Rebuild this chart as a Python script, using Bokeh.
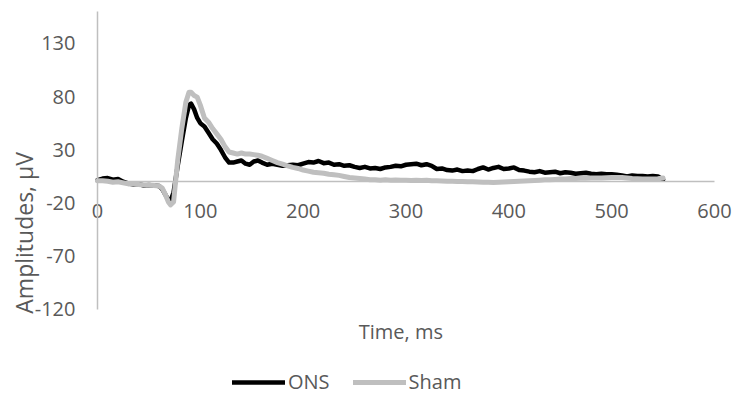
from bokeh.plotting import figure
from bokeh.models import Range1d, FixedTicker, Label, Legend, LegendItem, CustomJSTickFormatter
from bokeh.embed import file_html
from bokeh.resources import INLINE

# time axis (ms)
time_ms = [0, 5, 10, 15, 20, 25, 30, 35, 40, 45, 50, 55, 60, 63, 66, 69, 71, 74, 78, 82,
           86, 89, 91, 94, 97, 100, 104, 108, 112, 116, 120, 124, 128, 132, 136, 140, 144,
           148, 152, 156, 160, 165, 170, 175, 180, 185, 190, 195, 200, 205, 210, 215, 220,
           225, 230, 235, 240, 245, 250, 255, 260, 265, 270, 275, 280, 285, 290, 295, 300,
           305, 310, 315, 320, 325, 330, 335, 340, 345, 350, 355, 360, 365, 370, 375, 380,
           385, 390, 395, 400, 405, 410, 415, 420, 425, 430, 435, 440, 445, 450, 455, 460,
           465, 470, 475, 480, 485, 490, 495, 500, 505, 510, 515, 520, 525, 530, 535, 540,
           545, 550]

ons = [1.5, 3, 3.5, 2, 2.5, 0, -1.5, -2.5, -2, -3.5, -3, -3.5, -4, -7, -12, -17, -18, -10,
       15, 38, 60, 72, 73.5, 68, 60, 55, 52, 46, 40, 36, 30, 23, 18, 18, 19, 20, 17, 16, 19,
       20, 18, 16, 17, 16, 15, 15.5, 16, 15.5, 17, 18.5, 18, 19.5, 17.5, 18, 16, 16.5, 15,
       15.5, 14, 13, 14, 12.5, 13, 12, 13.5, 14, 15, 14.5, 16, 16.5, 17, 15.5, 16.5, 15, 12,
       12.5, 11, 10.5, 11.5, 10, 10.5, 10, 12, 13.5, 11.5, 13, 14, 12, 12.5, 13.5, 11, 10.5,
       9.5, 9, 10, 8.5, 9, 9.5, 8, 9, 8.5, 7.5, 8, 8.5, 7.5, 7, 7.5, 7, 7, 6.5, 6, 5, 6, 5.5,
       5.5, 5, 5.5, 5, 2]

sham = [1, 1, 0.5, -0.5, 0, -1, -2, -2, -2.5, -3, -3, -3.5, -4, -6, -12, -19, -21.7, -19,
        20, 50, 75, 84, 84, 81, 79.5, 72, 60, 56, 50, 45, 40, 33, 28, 27, 26, 27, 26, 26,
        25.5, 25, 24, 22, 20, 18, 16.5, 15, 13.5, 12.5, 11, 10, 9, 8.5, 8, 7, 6.5, 6, 5, 4,
        3.5, 3, 2.5, 2, 2, 1.5, 1.8, 1.5, 1.6, 1.5, 1.5, 1.2, 1.5, 1.3, 1.5, 1, 1, 0.8, 0.5,
        0.5, 0.3, 0.3, 0, 0, -0.3, -0.5, -0.5, -0.6, -0.5, -0.3, 0, 0.3, 0.5, 0.8, 1, 1.2,
        1.5, 1.8, 2, 2.2, 2.5, 2.7, 3, 3, 3.2, 3.4, 3.5, 3.5, 3.6, 3.8, 4, 4, 4, 3.5, 3, 2.8,
        2.7, 2.6, 2.6, 2.8, 3.5]

y_ticks = [-120, -70, -20, 30, 80, 130]
y_axis_top = 160
x_ticks = [0, 100, 200, 300, 400, 500, 600]
series_names = ["ONS", "Sham"]
x_title = "Time, ms"
y_title = "Amplitudes, µV"

FONT = "Open Sans"
TXT = "#595959"
AX = "#bfbfbf"

# frame covers the whole canvas; axes are pinned at zero and bounded
p = figure(width=733, height=395, output_backend="svg", toolbar_location=None,
           x_range=Range1d(-94.3, 618.5), y_range=Range1d(-200.8, 170.3),
           min_border=0)
p.outline_line_color = None
p.xgrid.visible = False
p.ygrid.visible = False
p.background_fill_color = "white"

p.xaxis.fixed_location = 0
p.yaxis.fixed_location = 0
p.xaxis.bounds = (x_ticks[0], x_ticks[-1])
p.yaxis.bounds = (y_ticks[0], y_axis_top)
p.xaxis.ticker = FixedTicker(ticks=x_ticks)
p.yaxis.ticker = FixedTicker(ticks=y_ticks)
fmt = "return tick.toString()"
for ax in (p.xaxis, p.yaxis):
    ax.formatter = CustomJSTickFormatter(code=fmt)
    ax.axis_line_color = AX
    ax.axis_line_width = 1.5
    ax.major_tick_line_color = None
    ax.minor_tick_line_color = None
    ax.major_tick_out = 0
    ax.major_tick_in = 0
    ax.minor_tick_out = 0
    ax.major_label_text_font = FONT
    ax.major_label_text_font_size = "20px"
    ax.major_label_text_color = TXT
p.xaxis.major_label_standoff = 22
p.yaxis.major_label_standoff = 22

r_ons = p.line(time_ms, ons, line_color="black", line_width=4.5, line_join="round", line_cap="round")
r_sham = p.line(time_ms, sham, line_color="#bfbfbf", line_width=5, line_join="round", line_cap="round")

# axis titles
p.add_layout(Label(x=-71, y=-48, text=y_title, angle=1.5707963, text_align="center",
                   text_baseline="middle", text_font=FONT, text_font_size="23px", text_color=TXT))
p.add_layout(Label(x=295, y=-141, text=x_title, text_align="center",
                   text_baseline="middle", text_font=FONT, text_font_size="20px", text_color=TXT))

legend = Legend(items=[LegendItem(label=series_names[0], renderers=[r_ons]),
                       LegendItem(label=series_names[1], renderers=[r_sham])],
                location=(232, 0), orientation="horizontal", padding=0, margin=0,
                spacing=23, label_standoff=3, glyph_width=53, glyph_height=20,
                label_height=20, label_text_font=FONT, label_text_font_size="20px",
                label_text_color=TXT, border_line_color=None, background_fill_alpha=0)
p.add_layout(legend)

open("out.html", "w").write(file_html(p, INLINE))
